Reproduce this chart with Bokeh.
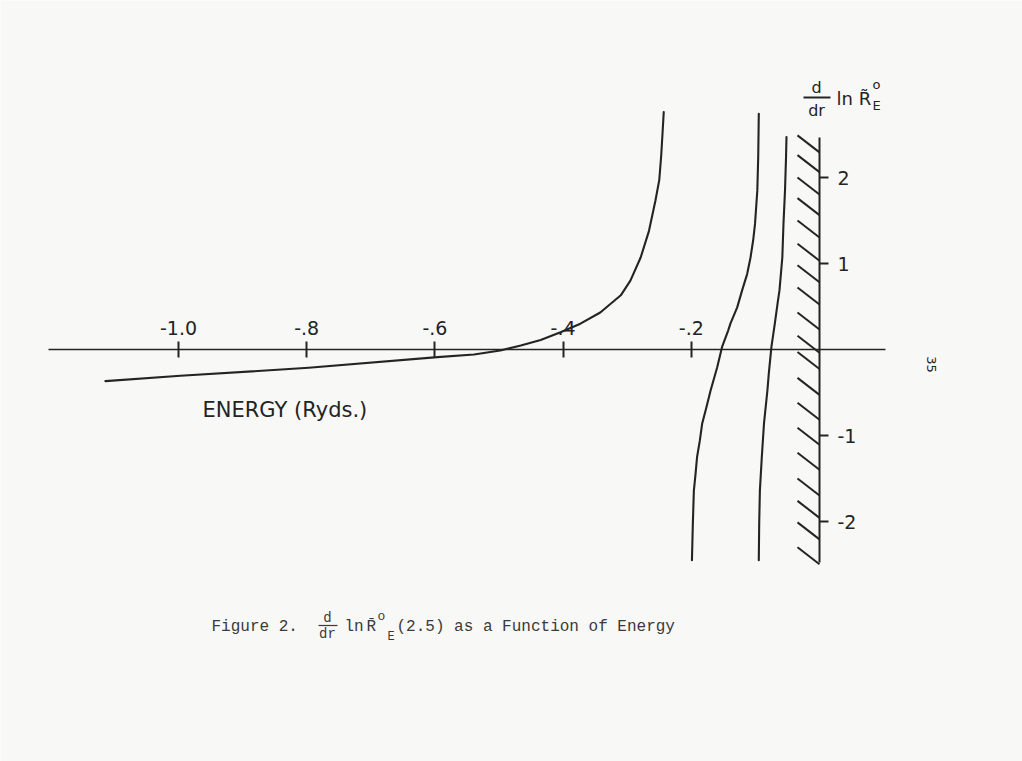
from bokeh.plotting import figure
from bokeh.models import Range1d, LinearAxis, FixedTicker
from bokeh.core.properties import value
from bokeh.embed import file_html
from bokeh.resources import INLINE

# ---------------- data ----------------
# branch 1: from the left, rising to the pole near E = -0.24
c1_energy = [-1.114, -0.997, -0.797, -0.596, -0.539, -0.498, -0.466, -0.435, -0.404,
             -0.373, -0.342, -0.310, -0.295, -0.279, -0.266, -0.256, -0.250, -0.247, -0.245, -0.243]
c1_value = [-0.368, -0.306, -0.213, -0.089, -0.058, -0.012, 0.047, 0.11, 0.20,
            0.30, 0.43, 0.63, 0.80, 1.07, 1.38, 1.73, 1.97, 2.25, 2.50, 2.76]

# branch 2: between the poles at about -0.20 and -0.095
c2_energy = [-0.0947, -0.0956, -0.097, -0.1006, -0.1035, -0.1076, -0.1128, -0.1206, -0.1284,
             -0.139, -0.1425, -0.152, -0.1597, -0.170, -0.1763, -0.183, -0.1867, -0.191,
             -0.1934, -0.196, -0.1976, -0.199]
c2_value = [2.74, 2.24, 1.85, 1.46, 1.27, 1.07, 0.88, 0.69, 0.49,
            0.30, 0.22, 0.03, -0.21, -0.48, -0.67, -0.86, -1.06, -1.25,
            -1.45, -1.64, -2.03, -2.45]

# branch 3: between the poles at about -0.095 and -0.05
c3_energy = [-0.0515, -0.0522, -0.0538, -0.0562, -0.058, -0.0624, -0.0655, -0.0697, -0.075,
             -0.0791, -0.0813, -0.0866, -0.0900, -0.093, -0.0941, -0.0947]
c3_value = [2.47, 2.24, 1.85, 1.46, 1.07, 0.69, 0.53, 0.30, 0.03,
            -0.28, -0.48, -0.86, -1.25, -1.64, -2.03, -2.45]

x_ticks = [-1.0, -0.8, -0.6, -0.4, -0.2]
x_tick_labels = ["-1.0", "-.8", "-.6", "-.4", "-.2"]
y_ticks = [2, 1, -1, -2]
y_tick_labels = ["2", "1", "-1", "-2"]

# hatch marks on the E = 0 wall (tops, in y units)
hatch_tops = [2.49, 2.26, 2.00, 1.76, 1.50, 1.23, 0.98, 0.72, 0.43, 0.16,
              -0.03, -0.33, -0.62, -0.91, -1.20, -1.50, -1.76, -2.01, -2.30]

# ---------------- styling ----------------
BG = "#f8f8f6"
INK = "#242424"
SANS = "DejaVu Sans"
MONO = "Liberation Mono"

W, H = 1022, 761
X0_PX, XS = 819.0, 641.0   # pixel of E=0, pixels per unit
Y0_PX, YS = 349.0, 86.0    # pixel of value 0, pixels per unit


def px_x(px):
    return (px - X0_PX) / XS


def px_y(py):
    return (Y0_PX - py) / YS


p = figure(width=W, height=H, x_range=Range1d(px_x(0), px_x(W)), y_range=Range1d(px_y(H), px_y(0)),
           output_backend="svg", toolbar_location=None, min_border=0,
           x_axis_type=None, y_axis_type=None,
           background_fill_color=BG, border_fill_color=BG, outline_line_color=None)

# energy axis through value 0, labels above
xaxis = LinearAxis(fixed_location=0, ticker=FixedTicker(ticks=x_ticks),
                   bounds=(px_x(48), px_x(885)),
                   major_label_overrides={t: l for t, l in zip(x_ticks, x_tick_labels)},
                   axis_line_color=INK, axis_line_width=1.6,
                   major_tick_line_color=INK, major_tick_line_width=2,
                   major_tick_in=8, major_tick_out=8,
                   minor_tick_line_color=None,
                   major_label_standoff=7,
                   major_label_text_font=SANS, major_label_text_font_size="19px",
                   major_label_text_color=INK)
p.add_layout(xaxis, "above")

# value axis at E = 0, labels to the right
yaxis = LinearAxis(fixed_location=0, ticker=FixedTicker(ticks=y_ticks),
                   bounds=(px_y(562), px_y(137)),
                   major_label_overrides={t: l for t, l in zip(y_ticks, y_tick_labels)},
                   axis_line_color=INK, axis_line_width=2,
                   major_tick_line_color=INK, major_tick_line_width=2,
                   major_tick_in=0, major_tick_out=9,
                   minor_tick_line_color=None,
                   major_label_standoff=9,
                   major_label_text_font=SANS, major_label_text_font_size="19px",
                   major_label_text_color=INK)
p.add_layout(yaxis, "right")

# hatching on the wall
hdx = 22.0 / XS
hdy = 17.0 / YS
p.segment(x0=[-hdx] * len(hatch_tops), y0=hatch_tops, x1=[0.0] * len(hatch_tops),
          y1=[t - hdy for t in hatch_tops], line_color=INK, line_width=2)

# curves
for ex, vy in ((c1_energy, c1_value), (c2_energy, c2_value), (c3_energy, c3_value)):
    p.line(ex, vy, line_color=INK, line_width=2.1, line_join="round", line_cap="round")

# x axis title
p.text(x=[px_x(202)], y=[px_y(409)], text=["ENERGY (Ryds.)"], text_font=value(SANS),
       text_font_size="21px", text_color=INK, text_align="left", text_baseline="middle")

# y axis title: d/dr ln R~_E^o
p.text(x=[px_x(816)], y=[px_y(87)], text=["d"], text_font=value(SANS), text_font_size="16px",
       text_color=INK, text_align="center", text_baseline="middle")
p.text(x=[px_x(816)], y=[px_y(110)], text=["dr"], text_font=value(SANS), text_font_size="16px",
       text_color=INK, text_align="center", text_baseline="middle")
p.segment(x0=[px_x(803)], y0=[px_y(97)], x1=[px_x(830)], y1=[px_y(97)], line_color=INK, line_width=1.8)
p.text(x=[px_x(836)], y=[px_y(98)], text=["ln R\u0303"], text_font=value(SANS), text_font_size="18px",
       text_color=INK, text_align="left", text_baseline="middle")
p.text(x=[px_x(872)], y=[px_y(84)], text=["o"], text_font=value(SANS), text_font_size="13px",
       text_color=INK, text_align="left", text_baseline="middle")
p.text(x=[px_x(872)], y=[px_y(105)], text=["E"], text_font=value(SANS), text_font_size="13px",
       text_color=INK, text_align="left", text_baseline="middle")

# caption
CAP = "#3a3a3a"
p.text(x=[px_x(211)], y=[px_y(626)], text=["Figure 2."], text_font=value(MONO), text_font_size="16px",
       text_color=CAP, text_align="left", text_baseline="middle")
p.text(x=[px_x(327)], y=[px_y(617)], text=["d"], text_font=value(MONO), text_font_size="14px",
       text_color=CAP, text_align="center", text_baseline="middle")
p.segment(x0=[px_x(318)], y0=[px_y(625)], x1=[px_x(337)], y1=[px_y(625)], line_color=CAP, line_width=1.2)
p.text(x=[px_x(327)], y=[px_y(633)], text=["dr"], text_font=value(MONO), text_font_size="14px",
       text_color=CAP, text_align="center", text_baseline="middle")
p.text(x=[px_x(344)], y=[px_y(626)], text=["ln"], text_font=value(MONO), text_font_size="16px",
       text_color=CAP, text_align="left", text_baseline="middle")
p.text(x=[px_x(366)], y=[px_y(626)], text=["R\u0304"], text_font=value(MONO), text_font_size="16px",
       text_color=CAP, text_align="left", text_baseline="middle")
p.text(x=[px_x(377)], y=[px_y(616)], text=["o"], text_font=value(MONO), text_font_size="13px",
       text_color=CAP, text_align="left", text_baseline="middle")
p.text(x=[px_x(387)], y=[px_y(636)], text=["E"], text_font=value(MONO), text_font_size="12px",
       text_color=CAP, text_align="left", text_baseline="middle")
p.text(x=[px_x(396)], y=[px_y(626)], text=["(2.5) as a Function of Energy"], text_font=value(MONO),
       text_font_size="16px", text_color=CAP, text_align="left", text_baseline="middle")

# page number
p.text(x=[px_x(931)], y=[px_y(364)], text=["35"], text_font=value(SANS), text_font_size="13px",
       text_color=INK, text_align="center", text_baseline="middle", angle=-1.5708)

open("out.html", "w").write(file_html(p, INLINE))
